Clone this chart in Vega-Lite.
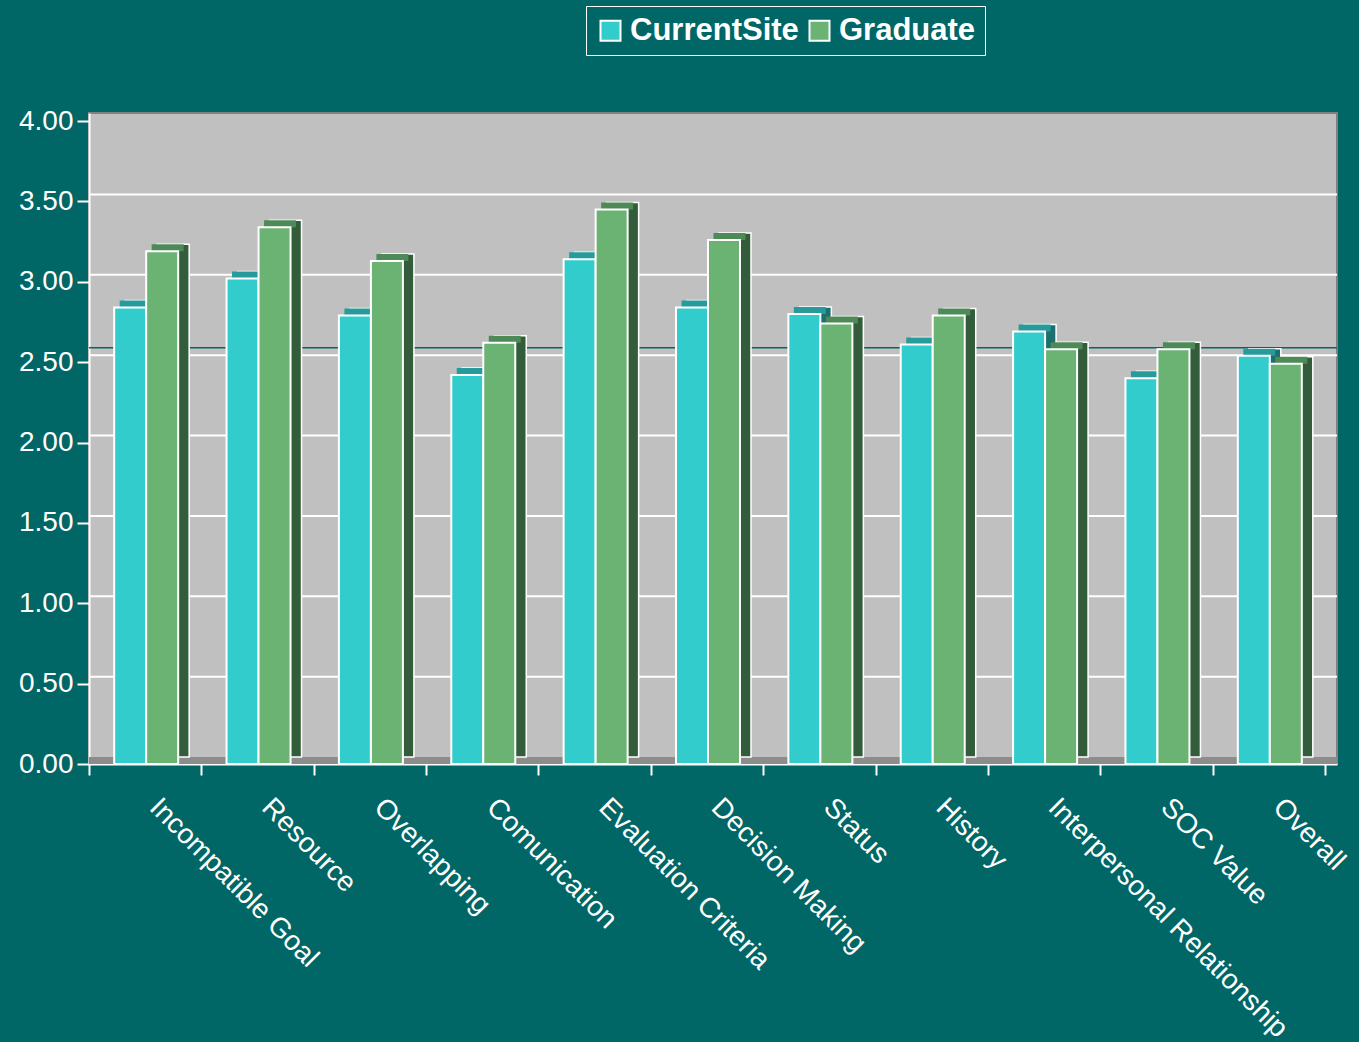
{
  "$schema": "https://vega.github.io/schema/vega-lite/v6.json",
  "width": 1248,
  "height": 651,
  "autosize": {"type": "none"},
  "padding": {"left": 89, "top": 113, "right": 22, "bottom": 278},
  "background": "#006666",
  "config": {
    "view": {"fill": "#C0C0C0", "stroke": "#808080", "strokeWidth": 2},
    "font": "Liberation Sans"
  },
  "datasets": {
    "scores": [
      {"cat": "Incompatible Goal", "series": "CurrentSite", "score": 2.84},
      {"cat": "Incompatible Goal", "series": "Graduate", "score": 3.19},
      {"cat": "Resource", "series": "CurrentSite", "score": 3.02},
      {"cat": "Resource", "series": "Graduate", "score": 3.34},
      {"cat": "Overlapping", "series": "CurrentSite", "score": 2.79},
      {"cat": "Overlapping", "series": "Graduate", "score": 3.13},
      {"cat": "Comunication", "series": "CurrentSite", "score": 2.42},
      {"cat": "Comunication", "series": "Graduate", "score": 2.62},
      {"cat": "Evaluation Criteria", "series": "CurrentSite", "score": 3.14},
      {"cat": "Evaluation Criteria", "series": "Graduate", "score": 3.45},
      {"cat": "Decision Making", "series": "CurrentSite", "score": 2.84},
      {"cat": "Decision Making", "series": "Graduate", "score": 3.26},
      {"cat": "Status", "series": "CurrentSite", "score": 2.80},
      {"cat": "Status", "series": "Graduate", "score": 2.74},
      {"cat": "History", "series": "CurrentSite", "score": 2.61},
      {"cat": "History", "series": "Graduate", "score": 2.79},
      {"cat": "Interpersonal Relationship", "series": "CurrentSite", "score": 2.69},
      {"cat": "Interpersonal Relationship", "series": "Graduate", "score": 2.58},
      {"cat": "SOC Value", "series": "CurrentSite", "score": 2.40},
      {"cat": "SOC Value", "series": "Graduate", "score": 2.58},
      {"cat": "Overall", "series": "CurrentSite", "score": 2.54},
      {"cat": "Overall", "series": "Graduate", "score": 2.49}
    ],
    "grid": [{"v": 0.5}, {"v": 1.0}, {"v": 1.5}, {"v": 2.0}, {"v": 2.5}, {"v": 3.0}, {"v": 3.5}],
    "ref": [{"v": 2.59}]
  },
  "layer": [
    {
      "data": {"name": "grid"},
      "mark": {"type": "rule", "color": "white", "strokeWidth": 2, "yOffset": -7, "xOffset": 12, "clip": true},
      "encoding": {
        "y": {
          "field": "v", "type": "quantitative",
          "scale": {"domain": [0, 4.05], "nice": false, "zero": true},
          "axis": {
            "title": null, "values": [0, 0.5, 1, 1.5, 2, 2.5, 3, 3.5, 4], "format": ".2f", "grid": false,
            "domainColor": "white", "domainWidth": 2, "tickColor": "white", "tickWidth": 2, "tickSize": 12,
            "labelColor": "white", "labelFontSize": 28, "labelPadding": 4, "labelFont": "Liberation Sans"
          }
        }
      }
    },
    {
      "data": {"name": "ref"},
      "mark": {"type": "rule", "color": "#8C8C8C", "strokeWidth": 7, "yOffset": -3.5, "xOffset": 6, "clip": true},
      "encoding": {"y": {"datum": 0, "type": "quantitative"}}
    },
    {
      "data": {"name": "ref"},
      "mark": {"type": "rule", "color": "#006666", "strokeWidth": 1.5, "xOffset": 12, "clip": true},
      "encoding": {"y": {"field": "v", "type": "quantitative"}}
    },
    {
      "data": {"name": "scores"},
      "transform": [{"filter": "datum.series === 'CurrentSite'"}],
      "mark": {"type": "bar", "width": 32, "xOffset": -4, "yOffset": -7, "y2Offset": -7, "color": "#1D6E6E", "stroke": "white", "strokeWidth": 1.5},
      "encoding": {
        "x": {
          "field": "cat", "type": "nominal",
          "scale": {"domain": ["Incompatible Goal", "Resource", "Overlapping", "Comunication", "Evaluation Criteria", "Decision Making", "Status", "History", "Interpersonal Relationship", "SOC Value", "Overall"], "paddingInner": 0, "paddingOuter": 0.0534, "align": 0},
          "axis": {
            "title": null, "domainColor": "white", "domainWidth": 2, "tickColor": "white", "tickWidth": 2, "tickSize": 11,
            "tickBand": "extent", "labelAngle": 45, "labelColor": "white", "labelFontSize": 28, "labelPadding": 18,
            "labelOffset": 18, "labelLimit": 600, "labelFont": "Liberation Sans"
          }
        },
        "y": {"field": "score", "type": "quantitative"}
      }
    },
    {
      "data": {"name": "scores"},
      "transform": [{"filter": "datum.series === 'CurrentSite'"}],
      "mark": {"type": "tick", "size": 32, "thickness": 7, "xOffset": -9.5, "yOffset": -3.5, "color": "#279B9B", "opacity": 1},
      "encoding": {
        "x": {"field": "cat", "type": "nominal"},
        "y": {"field": "score", "type": "quantitative"}
      }
    },
    {
      "data": {"name": "scores"},
      "transform": [{"filter": "datum.series === 'Graduate'"}],
      "mark": {"type": "bar", "width": 32, "xOffset": 28, "yOffset": -7, "y2Offset": -7, "color": "#335C3B", "stroke": "white", "strokeWidth": 1.5},
      "encoding": {
        "x": {"field": "cat", "type": "nominal"},
        "y": {"field": "score", "type": "quantitative"}
      }
    },
    {
      "data": {"name": "scores"},
      "transform": [{"filter": "datum.series === 'Graduate'"}],
      "mark": {"type": "tick", "size": 32, "thickness": 7, "xOffset": 22.5, "yOffset": -3.5, "color": "#4E8A58", "opacity": 1},
      "encoding": {
        "x": {"field": "cat", "type": "nominal"},
        "y": {"field": "score", "type": "quantitative"}
      }
    },
    {
      "data": {"name": "scores"},
      "transform": [{"filter": "datum.series === 'CurrentSite'"}],
      "mark": {"type": "bar", "width": 32, "xOffset": -15, "stroke": "white", "strokeWidth": 2, "opacity": 1},
      "encoding": {
        "x": {"field": "cat", "type": "nominal"},
        "y": {"field": "score", "type": "quantitative"},
        "color": {
          "field": "series", "type": "nominal",
          "scale": {"domain": ["CurrentSite", "Graduate"], "range": ["#33CCCC", "#6BB373"]},
          "legend": {
            "orient": "none", "legendX": 497, "legendY": -107, "direction": "horizontal", "title": null,
            "strokeColor": "white", "padding": 9, "labelFontSize": 31, "labelFontWeight": "bold", "labelColor": "white",
            "labelFont": "Liberation Sans", "symbolType": "square", "symbolSize": 400, "symbolStrokeColor": "white",
            "symbolStrokeWidth": 2, "symbolOpacity": 1, "columnPadding": 5, "labelOffset": 4, "labelLimit": 400
          }
        }
      }
    },
    {
      "data": {"name": "scores"},
      "transform": [{"filter": "datum.series === 'Graduate'"}],
      "mark": {"type": "bar", "width": 32, "xOffset": 17, "stroke": "white", "strokeWidth": 2, "opacity": 1},
      "encoding": {
        "x": {"field": "cat", "type": "nominal"},
        "y": {"field": "score", "type": "quantitative"},
        "color": {"field": "series", "type": "nominal"}
      }
    }
  ]
}
